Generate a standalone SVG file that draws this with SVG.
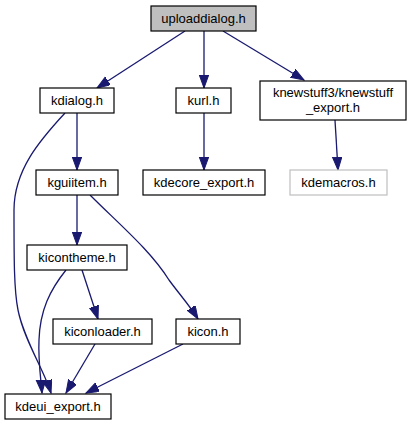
<svg xmlns="http://www.w3.org/2000/svg" width="412" height="425" viewBox="0 0 412 425">
<defs>
<style>
.n rect{fill:#fff;stroke:#000;stroke-width:1.2}
.n text{font-family:"Liberation Sans",Arial,sans-serif;font-size:13px;fill:#000;text-anchor:middle}
.e path{fill:none;stroke:#191970;stroke-width:1.3}
</style>
<marker id="a" markerUnits="userSpaceOnUse" markerWidth="14" markerHeight="11" refX="13" refY="4.7" orient="auto">
<path d="M0,0 L13,4.7 L0,9.4 z" fill="#191970" stroke="#191970" stroke-width="1"/>
</marker>
</defs>
<rect width="412" height="425" fill="#fff"/>
<g class="e">
<path d="M185,31 L97,88" marker-end="url(#a)"/>
<path d="M204,31 L204,88" marker-end="url(#a)"/>
<path d="M223,31 L304,80" marker-end="url(#a)"/>
<path d="M77,113 L77,170" marker-end="url(#a)"/>
<path d="M65,113 C40,140 14,170 14,210 C14,260 14,290 18,310 C24,340 44,370 51,393" marker-end="url(#a)"/>
<path d="M204,113 L204,170" marker-end="url(#a)"/>
<path d="M335,120 L338,170" marker-end="url(#a)"/>
<path d="M77,195 L77,245" marker-end="url(#a)"/>
<path d="M90,195 C120,225 150,250 169,280 C180,295 190,306 198,319" marker-end="url(#a)"/>
<path d="M82,270 L98,319" marker-end="url(#a)"/>
<path d="M66,270 C50,290 40,310 39,340 C38,360 41,380 42,393" marker-end="url(#a)"/>
<path d="M95,344 L66,393" marker-end="url(#a)"/>
<path d="M183,344 L86,393" marker-end="url(#a)"/>
</g>
<g id="uploaddialog" class="n"><rect x="151" y="6" width="105" height="25" style="fill:#bfbfbf"/><text x="203.5" y="23">uploaddialog.h</text></g>
<g id="kdialog" class="n"><rect x="40" y="88" width="74" height="25"/><text x="77" y="105">kdialog.h</text></g>
<g id="kurl" class="n"><rect x="176" y="88" width="55" height="25"/><text x="203.5" y="105">kurl.h</text></g>
<g id="knewstuff" class="n"><rect x="260" y="81" width="146" height="39"/><text x="333" y="97">knewstuff3/knewstuff</text><text x="333" y="112">_export.h</text></g>
<g id="kguiitem" class="n"><rect x="36" y="170" width="82" height="25"/><text x="77" y="187">kguiitem.h</text></g>
<g id="kdecore_export" class="n"><rect x="143" y="170" width="122" height="25"/><text x="204" y="187">kdecore_export.h</text></g>
<g id="kdemacros" class="n"><rect x="290" y="170" width="97" height="25" style="stroke:#bfbfbf"/><text x="338.5" y="187">kdemacros.h</text></g>
<g id="kicontheme" class="n"><rect x="27" y="245" width="100" height="25"/><text x="77" y="262">kicontheme.h</text></g>
<g id="kiconloader" class="n"><rect x="53" y="319" width="99" height="25"/><text x="102.5" y="336">kiconloader.h</text></g>
<g id="kicon" class="n"><rect x="176" y="319" width="64" height="25"/><text x="208" y="336">kicon.h</text></g>
<g id="kdeui_export" class="n"><rect x="5" y="394" width="106" height="25"/><text x="58" y="411">kdeui_export.h</text></g>
</svg>
